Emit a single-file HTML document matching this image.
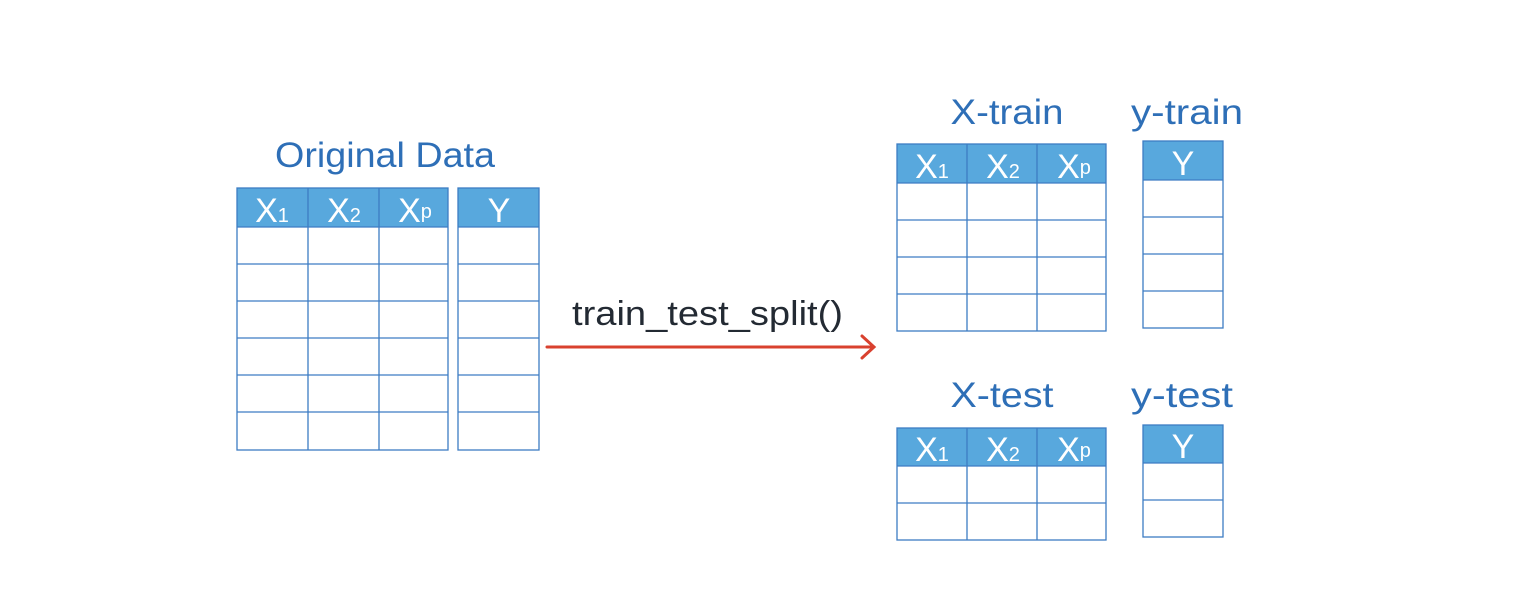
<!DOCTYPE html>
<html><head><meta charset="utf-8"><style>
html,body{margin:0;padding:0;background:#fff;}
svg{display:block;}
text{font-family:"Liberation Sans","DejaVu Sans",sans-serif;}
</style></head><body>
<svg width="1526" height="596" viewBox="0 0 1526 596" xmlns="http://www.w3.org/2000/svg">
<!-- Original data -->
<text x="385" y="167" font-size="35" fill="#2e6fb7" text-anchor="middle" textLength="220" lengthAdjust="spacingAndGlyphs">Original Data</text>
<rect x="237" y="188" width="211" height="39" fill="#58a8dd"/>
<rect x="458" y="188" width="81" height="39" fill="#58a8dd"/>
<g stroke="#3d7cc4" stroke-width="1.3" fill="none">
<rect x="237" y="188" width="211" height="262"/>
<rect x="458" y="188" width="81" height="262"/>
<path d="M308 188V450M379 188V450"/>
<path d="M237 227H448M237 264H448M237 301H448M237 338H448M237 375H448M237 412H448"/>
<path d="M458 227H539M458 264H539M458 301H539M458 338H539M458 375H539M458 412H539"/>
</g>
<g fill="#fff" font-size="34" text-anchor="middle">
<text x="272" y="222">X<tspan font-size="20">1</tspan></text>
<text x="344" y="222">X<tspan font-size="20">2</tspan></text>
<text x="415" y="222">X<tspan font-size="20" dy="-4">p</tspan></text>
<text x="499" y="222">Y</text>
</g>
<!-- arrow -->
<text x="572" y="325" font-size="34" fill="#232a33" textLength="271" lengthAdjust="spacingAndGlyphs">train_test_split()</text>
<g stroke="#d9412f" stroke-width="3" fill="none" stroke-linecap="round">
<path d="M547 347H873"/>
<path d="M862 336L874 347L862 358"/>
</g>
<!-- X-train -->
<text x="1007" y="124" font-size="35" fill="#2e6fb7" text-anchor="middle" textLength="113" lengthAdjust="spacingAndGlyphs">X-train</text>
<text x="1187" y="124" font-size="35" fill="#2e6fb7" text-anchor="middle" textLength="112" lengthAdjust="spacingAndGlyphs">y-train</text>
<rect x="897" y="144" width="209" height="39" fill="#58a8dd"/>
<rect x="1143" y="141" width="80" height="39" fill="#58a8dd"/>
<g stroke="#3d7cc4" stroke-width="1.3" fill="none">
<rect x="897" y="144" width="209" height="187"/>
<path d="M967 144V331M1037 144V331"/>
<path d="M897 183H1106M897 220H1106M897 257H1106M897 294H1106"/>
<rect x="1143" y="141" width="80" height="187"/>
<path d="M1143 180H1223M1143 217H1223M1143 254H1223M1143 291H1223"/>
</g>
<g fill="#fff" font-size="34" text-anchor="middle">
<text x="932" y="178">X<tspan font-size="20">1</tspan></text>
<text x="1003" y="178">X<tspan font-size="20">2</tspan></text>
<text x="1074" y="178">X<tspan font-size="20" dy="-4">p</tspan></text>
<text x="1183" y="175">Y</text>
</g>
<!-- X-test -->
<text x="1002" y="407" font-size="35" fill="#2e6fb7" text-anchor="middle" textLength="103" lengthAdjust="spacingAndGlyphs">X-test</text>
<text x="1182" y="407" font-size="35" fill="#2e6fb7" text-anchor="middle" textLength="102" lengthAdjust="spacingAndGlyphs">y-test</text>
<rect x="897" y="428" width="209" height="38" fill="#58a8dd"/>
<rect x="1143" y="425" width="80" height="38" fill="#58a8dd"/>
<g stroke="#3d7cc4" stroke-width="1.3" fill="none">
<rect x="897" y="428" width="209" height="112"/>
<path d="M967 428V540M1037 428V540"/>
<path d="M897 466H1106M897 503H1106"/>
<rect x="1143" y="425" width="80" height="112"/>
<path d="M1143 463H1223M1143 500H1223"/>
</g>
<g fill="#fff" font-size="34" text-anchor="middle">
<text x="932" y="461">X<tspan font-size="20">1</tspan></text>
<text x="1003" y="461">X<tspan font-size="20">2</tspan></text>
<text x="1074" y="461">X<tspan font-size="20" dy="-4">p</tspan></text>
<text x="1183" y="458">Y</text>
</g>
</svg>
</body></html>
